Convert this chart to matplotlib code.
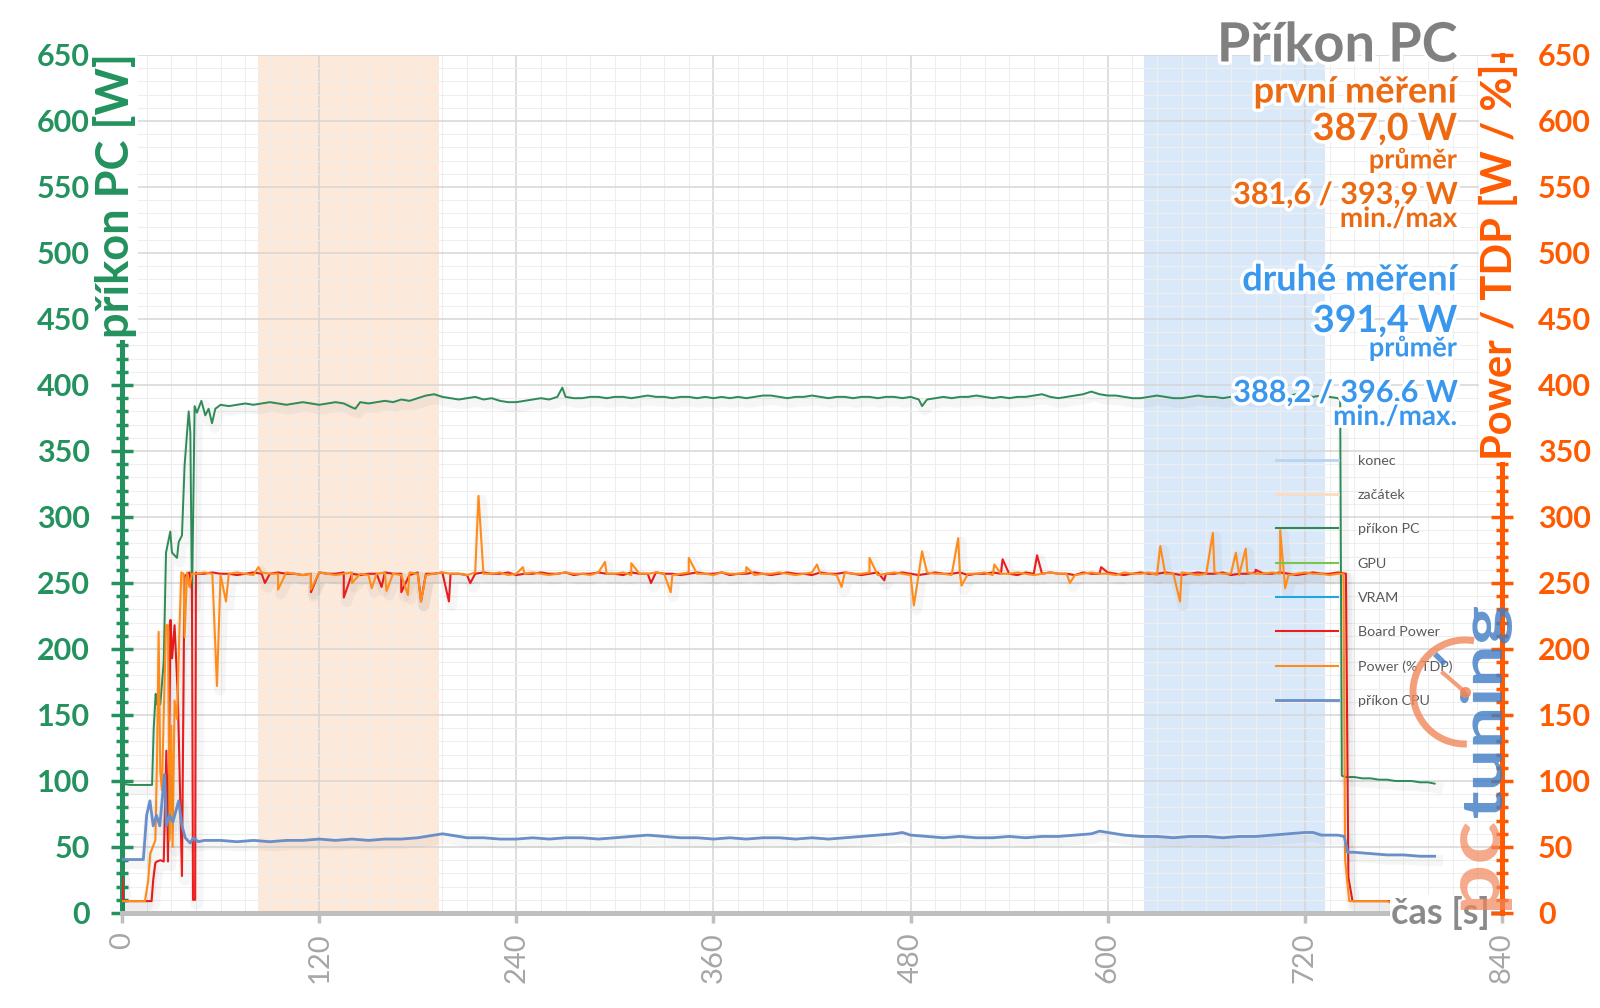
import numpy as np
import matplotlib
matplotlib.use("Agg")
import matplotlib.pyplot as plt
import matplotlib.patheffects as pe
from matplotlib.ticker import MultipleLocator
from matplotlib.lines import Line2D
from matplotlib.patches import Arc, PathPatch
from matplotlib.textpath import TextPath
from matplotlib.font_manager import FontProperties
from matplotlib.transforms import Affine2D

plt.rcParams['font.family'] = ['Lato', 'DejaVu Sans']

# measurement windows [s]
first_window = (83, 193)
second_window = (622, 732)

# --- příkon PC (green) ---
pc_start_t = [0, 5, 10, 15, 18.3, 19.3, 20.5, 21.3, 23.3, 25.4, 26.8, 29.4, 30.4, 33.5, 34.5,
              36.5, 38.1, 40.6, 41.6, 42.6, 44.2, 45.6, 48.3, 50.7, 52.7, 54.8, 56.8]
pc_start_w = [98, 97, 97, 97, 97, 140, 166, 158, 158, 190, 273, 289, 273, 269, 281,
              286, 339, 380, 364, 234, 384, 379, 388, 377, 382, 371, 382]
pc_steady_t = np.arange(60, 745, 5)
pc_steady_w = [385, 384, 385, 386, 385, 386, 387, 386, 385, 386, 387, 386,
               385, 386, 387, 386, 383, 387, 386, 387, 388, 387, 389, 388,
               390, 392, 393, 391, 390, 389, 390, 391, 389, 390, 388, 387,
               387, 388, 389, 390, 389, 391, 391, 390, 390, 391, 391, 390,
               391, 391, 390, 391, 392, 391, 391, 390, 391, 391, 390, 391,
               390, 391, 390, 391, 390, 391, 392, 392, 391, 390, 391, 391,
               392, 391, 390, 391, 391, 390, 391, 391, 390, 391, 391, 390,
               391, 389, 389, 390, 391, 390, 391, 391, 392, 391, 390, 391,
               390, 391, 391, 392, 393, 391, 390, 391, 392, 393, 395, 393,
               392, 392, 391, 390, 390, 391, 392, 391, 390, 390, 391, 392,
               391, 391, 390, 391, 392, 391, 390, 391, 392, 391, 392, 393,
               392, 391, 392, 391, 390]
pc_spike_t = [142, 268, 487]
pc_spike_w = [382, 398, 384]
pc_end_t = [741.5, 742.5, 745, 750, 755, 760, 765, 770, 775, 780, 785, 790, 795, 799]
pc_end_w = [389, 104, 103, 103, 102, 102, 101, 101, 100, 100, 100, 99, 99, 98]

# --- příkon CPU (steel blue) ---
cpu_start_t = [0, 13, 15, 17, 19, 21, 23, 25, 26, 27, 29, 31, 34.5, 36.5, 38.5, 41.5, 43.5, 46.5]
cpu_start_w = [40.5, 40.5, 74, 85, 66, 74, 66, 93, 105, 66, 74, 69, 85, 66, 57, 53, 57, 54]
cpu_steady_t = np.arange(50, 745, 10)
cpu_steady_w = [55, 55, 54, 55, 54, 55,
                55, 56, 55, 56, 55, 56,
                56, 57, 59, 59, 57, 57,
                56, 56, 57, 56, 57, 57,
                56, 57, 58, 59, 58, 57,
                57, 56, 57, 56, 57, 57,
                56, 57, 56, 57, 58, 59,
                60, 59, 58, 57, 58, 57,
                57, 58, 57, 58, 58, 59,
                60, 61, 59, 58, 58, 57,
                58, 58, 57, 58, 58, 59,
                60, 61, 59, 59]
cpu_spike_t = [195, 475, 595, 725]
cpu_spike_w = [60, 61, 62, 61]
cpu_end_t = [744, 746, 750, 760, 770, 780, 790, 799]
cpu_end_w = [58, 46, 46, 45, 44, 44, 43, 43]

# --- Board Power (red) ---
board_start_t = [0, 0.8, 18, 19, 20.3, 21.3, 23.3, 25.4, 26.2, 27, 28, 29.5, 30.5, 32, 34,
                 36.5, 38, 41, 42.6, 43.2, 44.5, 45]
board_start_w = [27, 9, 9, 25, 38, 39, 40, 39, 82, 123, 39, 222, 193, 218, 164,
                 28, 255, 258, 245, 10, 10, 258]
board_steady_t = np.arange(45, 745, 5)
board_steady_w = [257, 257, 258, 257, 257, 256, 257, 258, 257, 257, 258, 257,
                  257, 256, 257, 258, 257, 257, 258, 257, 256, 257, 257, 258,
                  257, 257, 256, 258, 257, 257, 258, 257, 257, 256, 257, 258,
                  257, 257, 258, 256, 257, 257, 258, 257, 257, 258, 256, 257,
                  257, 258, 257, 257, 256, 258, 257, 257, 258, 257, 257, 256,
                  257, 258, 257, 257, 258, 256, 257, 257, 258, 257, 256, 257,
                  258, 257, 257, 256, 258, 257, 257, 258, 257, 256, 257, 258,
                  257, 257, 258, 257, 256, 257, 258, 257, 257, 258, 256, 257,
                  257, 258, 257, 257, 256, 258, 257, 257, 258, 257, 257, 256,
                  258, 257, 257, 258, 257, 256, 257, 258, 257, 257, 258, 257,
                  256, 257, 258, 257, 257, 258, 256, 257, 257, 258, 257, 257,
                  258, 257, 256, 257, 258, 257, 257, 258]
board_spike_t = [87, 115, 135, 158, 170, 182, 199, 212, 322, 464, 536, 557, 596, 690]
board_spike_w = [250, 243, 239, 247, 243, 236, 236, 250, 250, 252, 268, 271, 262, 260]
board_end_t = [745, 746.5, 749, 785]
board_end_w = [257, 27, 9, 9]

# --- Power (% TDP) (orange) ---
tdp_start_t = [0, 14, 16, 17.2, 20.3, 21.3, 22.3, 23.3, 24.3, 25.4, 26.8, 28, 29, 30, 30.8,
               32, 33.5, 34.9, 36.1, 37.5, 38.1, 39.6, 41, 42.6]
tdp_start_p = [9, 9, 25, 45, 55, 115, 213, 107, 93, 150, 218, 218, 55, 142, 50,
               161, 147, 212, 258, 257, 209, 258, 247, 257]
tdp_steady_t = np.arange(45, 745, 5)
tdp_steady_p = [257, 258, 257, 256, 257, 258, 257, 256, 258, 257, 257, 258,
                257, 256, 257, 258, 257, 256, 257, 258, 257, 256, 257, 258,
                257, 256, 258, 257, 256, 257, 258, 257, 257, 256, 258, 257,
                257, 258, 256, 257, 257, 258, 257, 256, 257, 258, 257, 257,
                256, 258, 257, 257, 258, 256, 257, 257, 258, 257, 256, 257,
                258, 257, 257, 256, 258, 257, 257, 258, 256, 257, 257, 258,
                257, 256, 257, 258, 257, 257, 256, 258, 257, 257, 258, 256,
                257, 258, 257, 256, 257, 258, 257, 257, 256, 258, 257, 257,
                258, 256, 257, 257, 258, 257, 256, 257, 258, 257, 257, 256,
                257, 258, 257, 257, 256, 258, 257, 257, 258, 256, 257, 257,
                258, 257, 256, 257, 258, 257, 257, 256, 258, 257, 257, 258,
                257, 256, 257, 258, 257, 257, 256, 257]
tdp_spike_t = [57.8, 63.3, 83, 95, 115, 140, 152, 161, 174, 182, 217, 244, 294, 310, 334,
               345, 380, 423, 438, 455, 482, 487, 509, 511, 531, 577, 632, 644, 664, 678,
               684, 705, 708]
tdp_spike_p = [172, 236, 262, 245, 245, 250, 246, 244, 241, 236, 316, 262, 266, 265, 243,
               269, 262, 264, 247, 269, 233, 274, 284, 248, 264, 250, 278, 236, 288, 273,
               276, 290, 246]
tdp_end_t = [743.5, 744.5, 747, 770, 772, 790, 799]
tdp_end_p = [257, 40, 9, 9, 8, 9, 9]

legend_labels = ['konec', 'začátek', 'příkon PC', 'GPU', 'VRAM', 'Board Power',
                 'Power (% TDP)', 'příkon CPU']
legend_colors = ['#b7d5f2', '#f9dcc4', '#2e8b57', '#7cc44a', '#1fa8df', '#ee1c1c',
                 '#ff8c1a', '#6a8ec8']

stats_first = ['první měření', '387,0 W', 'průměr', '381,6 / 393,9 W', 'min./max']
stats_second = ['druhé měření', '391,4 W', 'průměr', '388,2 / 396,6 W', 'min./max.']

GREEN = '#23925e'
ORANGE_AX = '#ff5a00'
ORANGE_TXT = '#ec6a12'
BLUE_TXT = '#3a97ee'
GRAY = '#8a8a8a'


def join(*parts):
    t = np.concatenate([np.asarray(p[0], float) for p in parts])
    v = np.concatenate([np.asarray(p[1], float) for p in parts])
    order = np.argsort(t, kind='stable')
    return t[order], v[order]


fig = plt.figure(figsize=(16, 10.08), dpi=100)
ax = fig.add_axes([122 / 1600, 1 - 913 / 1008, 1380 / 1600, 858 / 1008])
ax2 = ax.twinx()

ax.axvspan(*first_window, color='#fde9d9', lw=0, zorder=1)
ax.axvspan(*second_window, color='#dae9fa', lw=0, zorder=1)

shadow = [pe.SimpleLineShadow(offset=(2, -3), shadow_color='k', alpha=0.035, linewidth=8),
          pe.Normal()]

t, v = join((pc_start_t, pc_start_w), (pc_steady_t, pc_steady_w),
            (pc_spike_t, pc_spike_w), (pc_end_t, pc_end_w))
ax.plot(t, v, color='#2e8b57', lw=1.4, zorder=3, path_effects=shadow)

t, v = join((board_start_t, board_start_w), (board_steady_t, board_steady_w),
            (board_spike_t, board_spike_w), (board_end_t, board_end_w))
ax.plot(t, v, color='#ee1c1c', lw=1.5, zorder=3, path_effects=shadow)

t, v = join((tdp_start_t, tdp_start_p), (tdp_steady_t, tdp_steady_p),
            (tdp_spike_t, tdp_spike_p), (tdp_end_t, tdp_end_p))
ax.plot(t, v, color='#ff8c1a', lw=1.5, zorder=3, path_effects=shadow)

t, v = join((cpu_start_t, cpu_start_w), (cpu_steady_t, cpu_steady_w),
            (cpu_spike_t, cpu_spike_w), (cpu_end_t, cpu_end_w))
ax.plot(t, v, color='#6a8ec8', lw=2.0, zorder=3, path_effects=shadow)

# axes and grid
ax.set_xlim(0, 840)
ax.set_ylim(0, 650)
ax2.set_ylim(0, 650)
ax.set_xticks(range(0, 841, 120))
ax.xaxis.set_minor_locator(MultipleLocator(15))
ax.set_yticks(range(0, 651, 50))
ax.yaxis.set_minor_locator(MultipleLocator(10))
ax2.set_yticks(range(0, 651, 50))
ax2.yaxis.set_minor_locator(MultipleLocator(10))
ax.grid(which='major', color='#d6d6d6', lw=1.1)
ax.grid(which='minor', color='#eeeeee', lw=0.8)

for s in ['top', 'right']:
    ax.spines[s].set_visible(False)
for s in ['top', 'left', 'bottom']:
    ax2.spines[s].set_visible(False)
ax.spines['left'].set_color(GREEN)
ax.spines['left'].set_linewidth(3.6)
ax.spines['bottom'].set_color('#bfbfbf')
ax.spines['bottom'].set_linewidth(3.6)
ax2.spines['right'].set_color(ORANGE_AX)
ax2.spines['right'].set_linewidth(3.6)

ax.tick_params(axis='x', which='major', direction='out', length=7, width=2.5,
               color='#bfbfbf', labelcolor='#a6a6a6', labelsize=21, pad=7, labelrotation=90)
ax.tick_params(axis='x', which='minor', length=0)
ax.tick_params(axis='y', which='major', direction='inout', length=16, width=2.5,
               color=GREEN, labelcolor=GREEN, labelsize=22, pad=15)
ax.tick_params(axis='y', which='minor', direction='inout', length=9, width=2.5, color=GREEN)
ax2.tick_params(axis='y', which='major', direction='inout', length=16, width=2.5,
                color=ORANGE_AX, labelcolor=ORANGE_AX, labelsize=22, pad=18)
ax2.tick_params(axis='y', which='minor', direction='inout', length=9, width=2.5,
                color=ORANGE_AX)
for lab in ax.get_yticklabels() + ax2.get_yticklabels():
    lab.set_fontweight('bold')

# overlay in figure pixels (y up)
ov = fig.add_axes([0, 0, 1, 1])
ov.set_xlim(0, 1600)
ov.set_ylim(0, 1008)
ov.axis('off')
ov.set_zorder(5)

box = dict(facecolor='white', edgecolor='none', pad=1)
ov.text(115, 812, 'příkon PC [W]', rotation=90, ha='center', va='center',
        color=GREEN, fontsize=32.5, fontweight='bold', bbox=box)
ov.text(1500, 746, 'Power / TDP [W / %]', rotation=90, ha='center', va='center',
        color=ORANGE_AX, fontsize=30, fontweight='bold', bbox=box)
ov.text(1490, 95, 'čas [s]', ha='right', va='center', color=GRAY, fontsize=26,
        fontweight='bold', bbox=box)

halo = [pe.withStroke(linewidth=5, foreground='white')]
ov.text(1457, 962, 'Příkon PC', ha='right', va='center', color='#808080', fontsize=39,
        fontweight='bold', path_effects=halo)
sizes = [26, 27, 19.5, 22, 20]
ys_first = [916, 879, 848, 813, 789]
ys_second = [728, 687, 660, 615, 591]
for txt, fs, y in zip(stats_first, sizes, ys_first):
    ov.text(1457, y, txt, ha='right', va='center', color=ORANGE_TXT, fontsize=fs,
            fontweight='bold', path_effects=halo)
for txt, fs, y in zip(stats_second, sizes, ys_second):
    ov.text(1457, y, txt, ha='right', va='center', color=BLUE_TXT, fontsize=fs,
            fontweight='bold', path_effects=halo)

# legend
handles = [Line2D([], [], color=c, lw=2.0 if i in (0, 1, 7) else 1.5)
           for i, c in enumerate(legend_colors)]
leg = ov.legend(handles, legend_labels, loc='upper left', bbox_to_anchor=(1276, 1008 - 455),
                bbox_transform=ov.transData, frameon=False, fontsize=10.3, labelspacing=1.55,
                handlelength=4.3, handletextpad=1.4, borderpad=0, borderaxespad=0)
for txt in leg.get_texts():
    txt.set_color('#595959')


# pctuning watermark, drawn on top of everything
def add_word(word, color, alpha, x_center, y_bottom, length, thickness):
    tp = TextPath((0, 0), word, size=1, prop=FontProperties(family='Lato', weight='bold'))
    bb = tp.get_extents()
    tr = (Affine2D().translate(-bb.x0, -bb.y0)
          .scale(length / bb.width, thickness / bb.height)
          .rotate_deg(90)
          .translate(x_center + thickness / 2, y_bottom))
    ov.add_patch(PathPatch(tr.transform_path(tp), facecolor=color, edgecolor='none',
                           alpha=alpha, zorder=8))


add_word('pc', '#f0875a', 0.7, 1486, 98, 87, 52)
add_word('tuning', '#3f7cc4', 0.8, 1486, 190, 211, 52)
ov.add_patch(Arc((1465, 316), 104, 104, theta1=80, theta2=272, color='#f0875a',
                 lw=5, alpha=0.8, zorder=8))
ov.plot([1465, 1443], [316, 335], color='#f0875a', lw=3, alpha=0.8, zorder=8)
ov.plot([1465], [316], 'o', color='#f0875a', ms=7, alpha=0.8, zorder=8)
ov.plot([1437, 1443], [352, 346], color='#3f7cc4', lw=4, alpha=0.8, zorder=8)

fig.savefig('out.png', dpi=100)
